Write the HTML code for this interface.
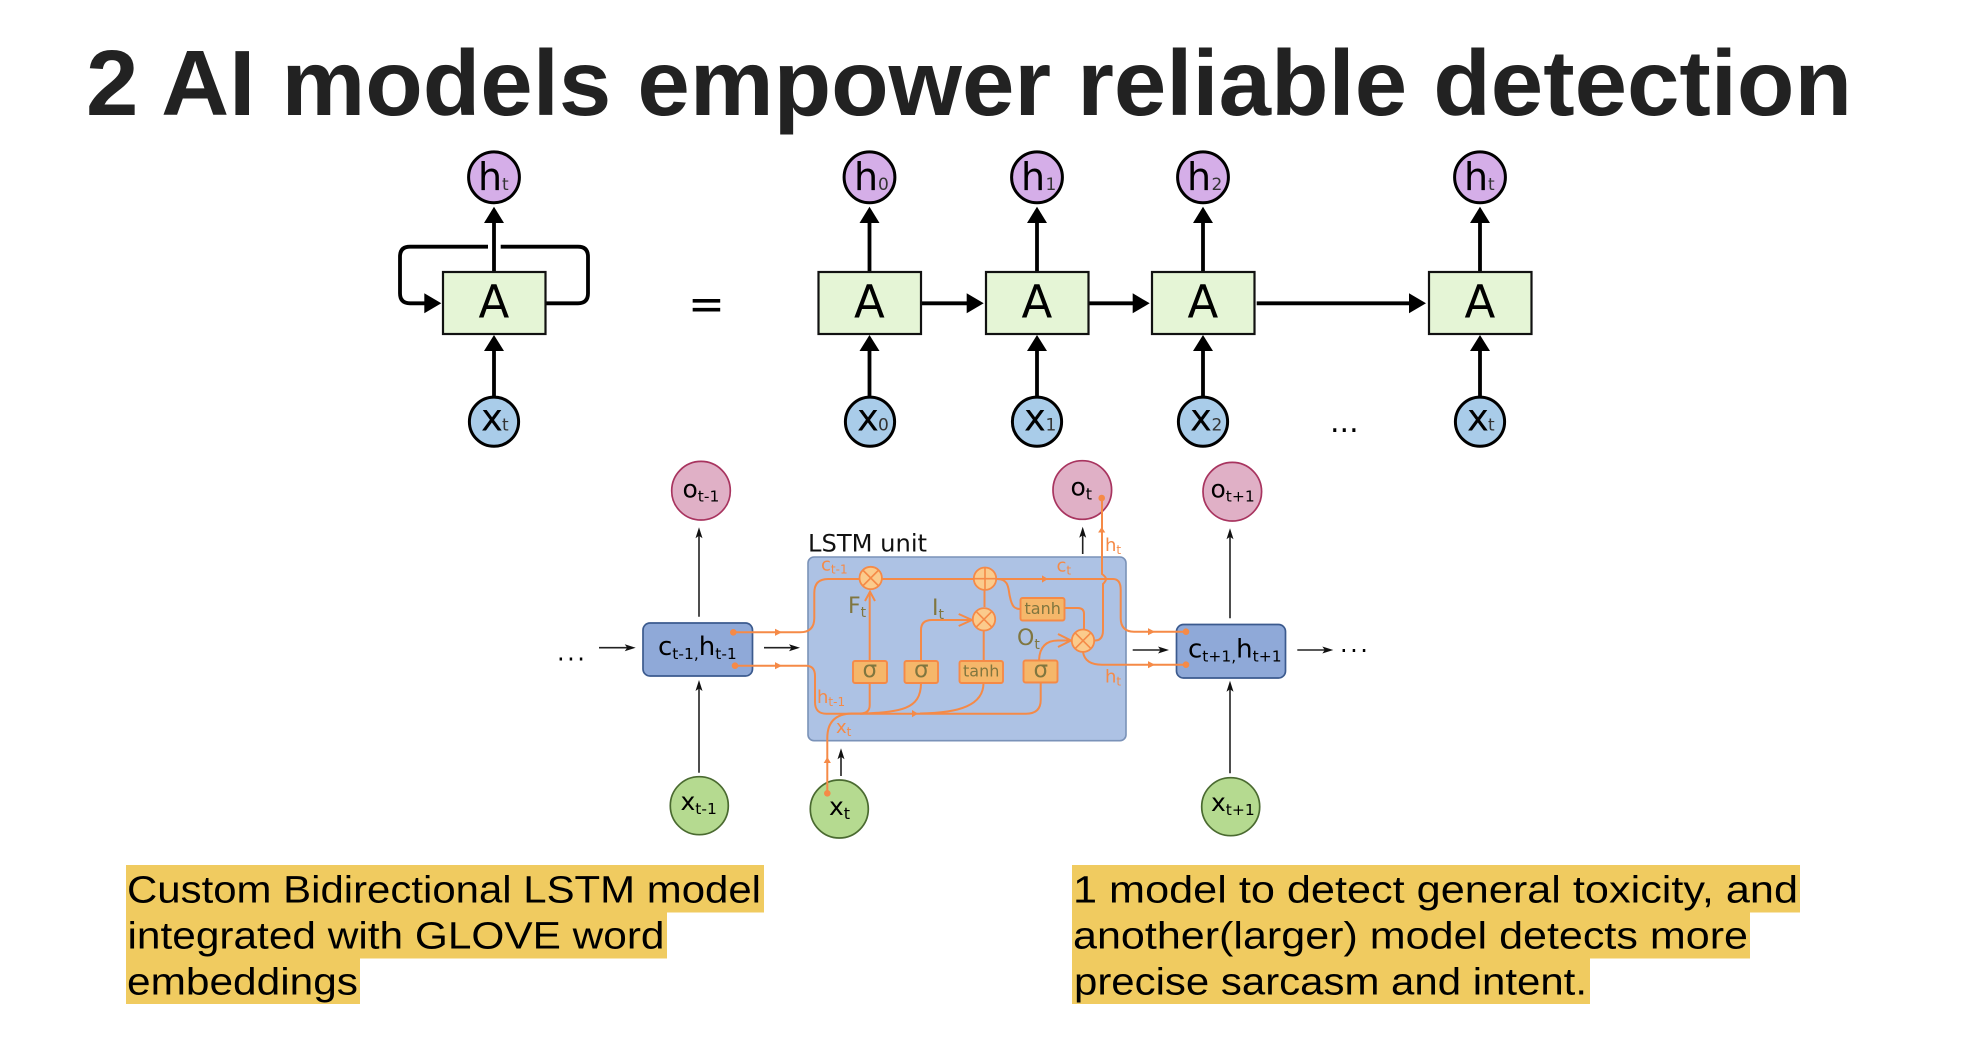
<!DOCTYPE html>
<html><head><meta charset="utf-8"><title>2 AI models empower reliable detection</title>
<style>html,body{margin:0;padding:0;background:#fff;width:1978px;height:1046px;overflow:hidden}svg{display:block}
.d{font-family:"DejaVu Sans",sans-serif}.l{font-family:"Liberation Sans",sans-serif}
.o{fill:#f58a47;font-size:18px}.ol{fill:#80763f;font-size:22px}.s{fill:#80763f;font-size:23px}.tn{fill:#80763f;font-size:16px}
.sub{fill:#333;font-size:17px}.big{fill:#000;font-size:38px}.xx{fill:#000;font-size:37px}.aa{fill:#000;font-size:45px}
.blk{fill:#000;font-size:24px}</style></head><body>
<svg width="1978" height="1046" viewBox="0 0 1978 1046" xmlns="http://www.w3.org/2000/svg">
<rect width="1978" height="1046" fill="#fff"/>
<text class="l" x="86" y="115" font-size="93" font-weight="700" fill="#222" textLength="1766" lengthAdjust="spacingAndGlyphs">2 AI models empower reliable detection</text>

<g stroke="#000" stroke-width="3.8" fill="none">
<path d="M488 246.7H410Q400 246.7 400 256.7V293.3Q400 303.3 410 303.3H426"/>
<path d="M500.7 246.7H578Q588 246.7 588 256.7V293.3Q588 303.3 578 303.3H545"/>
<path d="M494 271V222M494 396V350"/>
<path d="M869.5 271V222M869.5 396V350M1037 271V222M1037 396V350M1203 271V222M1203 396V350M1480 271V222M1480 396V350"/>
<path d="M921 303.3H968M1089 303.3H1134M1256.7 303.3H1410"/>
</g>
<g fill="#000">
<polygon points="441.3,303.3 424.3,293.3 424.3,313.3"/>
<polygon points="983.7,303.3 966.7,293.3 966.7,313.3"/>
<polygon points="1149.7,303.3 1132.7,293.3 1132.7,313.3"/>
<polygon points="1426,303.3 1409,293.3 1409,313.3"/>
<polygon points="494,206.7 504,223 484,223"/><polygon points="494,335 504,351 484,351"/>
<polygon points="869.5,206.7 879.5,223 859.5,223"/><polygon points="869.5,335 879.5,351 859.5,351"/>
<polygon points="1037,206.7 1047,223 1027,223"/><polygon points="1037,335 1047,351 1027,351"/>
<polygon points="1203,206.7 1213,223 1193,223"/><polygon points="1203,335 1213,351 1193,351"/>
<polygon points="1480,206.7 1490,223 1470,223"/><polygon points="1480,335 1490,351 1470,351"/>
</g>
<g fill="#e5f5d6" stroke="#111" stroke-width="2.2">
<rect x="443" y="272" width="102.5" height="62"/><rect x="818.5" y="272" width="102.5" height="62"/><rect x="986" y="272" width="102.5" height="62"/><rect x="1152" y="272" width="102.5" height="62"/><rect x="1429" y="272" width="102.5" height="62"/>
</g>
<g fill="#d5aee8" stroke="#000" stroke-width="3">
<circle cx="494" cy="177.3" r="25.4"/><circle cx="869.5" cy="177.3" r="25.4"/><circle cx="1037" cy="177.3" r="25.4"/><circle cx="1203" cy="177.3" r="25.4"/><circle cx="1480" cy="177.3" r="25.4"/>
</g>
<g fill="#a9cce9" stroke="#000" stroke-width="3">
<circle cx="494" cy="421.7" r="24.6"/><circle cx="870" cy="421.7" r="24.6"/><circle cx="1037" cy="421.7" r="24.6"/><circle cx="1203" cy="421.7" r="24.6"/><circle cx="1480" cy="421.7" r="24.6"/>
</g>
<g class="d">
<text class="aa" x="478.5" y="317.7">A</text><text class="aa" x="854" y="317.7">A</text><text class="aa" x="1021.5" y="317.7">A</text><text class="aa" x="1187.5" y="317.7">A</text><text class="aa" x="1464.5" y="317.7">A</text>
<text x="688" y="319" font-size="44" fill="#000">=</text>
<text class="big" x="478" y="190">h</text><text class="sub" x="502" y="190">t</text>
<text class="big" x="854" y="190">h</text><text class="sub" x="878" y="190">0</text>
<text class="big" x="1021" y="190">h</text><text class="sub" x="1045.5" y="190">1</text>
<text class="big" x="1187" y="190">h</text><text class="sub" x="1211.5" y="190">2</text>
<text class="big" x="1464" y="190">h</text><text class="sub" x="1488" y="190">t</text>
<text class="xx" x="481" y="430.7">x</text><text class="sub" x="502" y="430.7">t</text>
<text class="xx" x="857" y="430.7">x</text><text class="sub" x="878" y="430.7">0</text>
<text class="xx" x="1024" y="430.7">x</text><text class="sub" x="1045.5" y="430.7">1</text>
<text class="xx" x="1190" y="430.7">x</text><text class="sub" x="1211.5" y="430.7">2</text>
<text class="xx" x="1467" y="430.7">x</text><text class="sub" x="1488" y="430.7">t</text>
<text x="1330" y="432" font-size="30" fill="#000">...</text>
</g>

<!-- LSTM -->
<rect x="808" y="557" width="318" height="183.7" rx="6" fill="#adc2e4" stroke="#7a92b8" stroke-width="1.6"/>
<text class="d" x="808" y="551.7" font-size="24.2" fill="#111">LSTM unit</text>

<g fill="#8fa9d8" stroke="#3b5a8e" stroke-width="1.7">
<rect x="643" y="623" width="109.5" height="53" rx="7"/><rect x="1176.5" y="624.5" width="109" height="53.5" rx="7"/>
</g>
<g stroke="#222" stroke-width="1.6" fill="none">
<path d="M699 616.7V535M699 772.7V688M599 647.7H628M764 647.7H792M841 776V756M1082.7 554V535M1230 618.3V536M1230 773.3V688M1132.7 650H1161M1297.3 650H1325"/>
</g>
<g fill="#111">
<path d="M699 527.3l3.5 11-3.5-2.5-3.5 2.5z"/><path d="M699 680l3.5 11-3.5-2.5-3.5 2.5z"/>
<path d="M841 748.3l3.5 11-3.5-2.5-3.5 2.5z"/><path d="M1082.7 526.7l3.5 11-3.5-2.5-3.5 2.5z"/>
<path d="M1230 528.3l3.5 11-3.5-2.5-3.5 2.5z"/><path d="M1230 680.7l3.5 11-3.5-2.5-3.5 2.5z"/>
<path d="M635.7 647.7l-11 3.5 2.5-3.5-2.5-3.5z"/><path d="M800 647.7l-11 3.5 2.5-3.5-2.5-3.5z"/>
<path d="M1169 650l-11 3.5 2.5-3.5-2.5-3.5z"/><path d="M1333.3 650l-11 3.5 2.5-3.5-2.5-3.5z"/>
</g>
<g stroke-width="1.7">
<g fill="#e0b0c6" stroke="#a8345f">
<circle cx="701" cy="490.7" r="29.3"/><circle cx="1082.3" cy="490" r="29.3"/><circle cx="1232.3" cy="491.7" r="29.3"/>
</g>
<g fill="#b5da90" stroke="#4a6a30">
<circle cx="699.3" cy="805.7" r="29"/><circle cx="839.3" cy="809" r="29"/><circle cx="1230.7" cy="806.7" r="29"/>
</g>
</g>
<g class="d" fill="#000" font-size="25">
<text x="682.5" y="497.7">o<tspan font-size="15.5" dy="4">t-1</tspan></text>
<text x="1070.5" y="495.7">o<tspan font-size="16" dy="4">t</tspan></text>
<text x="1210.5" y="497.7">o<tspan font-size="15.5" dy="4">t+1</tspan></text>
<text x="680.5" y="810">x<tspan font-size="15.5" dy="4">t-1</tspan></text>
<text x="829" y="815">x<tspan font-size="16" dy="4">t</tspan></text>
<text x="1211" y="811">x<tspan font-size="15.5" dy="4">t+1</tspan></text>
<text x="658" y="655" font-size="26">c<tspan font-size="15.5" dy="4">t-1,</tspan><tspan dy="-4" font-size="26">h</tspan><tspan font-size="15.5" dy="4">t-1</tspan></text>
<text x="1188" y="657.3" font-size="26">c<tspan font-size="15.5" dy="4">t+1,</tspan><tspan dy="-4" font-size="26">h</tspan><tspan font-size="15.5" dy="4">t+1</tspan></text>
<text x="557" y="660.5" font-size="24" letter-spacing="2.5">...</text>
<text x="1340" y="652" font-size="24" letter-spacing="2.5">...</text>
</g>

<g fill="none" stroke="#f58a47" stroke-width="2">
<path d="M733.3 632.3H800Q814.3 632.3 814.3 618V593Q814.3 579 828 579H1113Q1120.7 579 1120.7 590V618Q1120.7 631.7 1134 631.7H1186"/>
<path d="M735 665.7H806Q815 665.7 815 676V702Q815 714 827 713.7H1026Q1040.7 713.7 1040.7 700V683"/>
<path d="M827.3 793.3V738Q827.3 714 852 713.5H860Q869.7 713.5 869.7 705V592"/>
<path d="M860 713.7C900 712 921 710 921 683V660M920 713.5C960 713 983.5 705 983.5 683"/>
<path d="M983.7 660V631M984.5 607V590"/>
<path d="M921 660V630Q921 620 932 620H972"/>
<path d="M1039 660Q1040 640.5 1058 640.5H1071"/>
<path d="M997 579C1010 579 1008 590 1010 597C1012 607 1015 609 1020 609"/>
<path d="M1065 608H1078Q1084 608 1084 614V629"/>
<path d="M1095 640.5Q1103 640.5 1103 630V584Q1106 581 1106 579Q1106 577 1102 574V498"/>
<path d="M1083 652Q1085 664.7 1102 664.7H1186"/>
<path d="M865 601L870 591.7L875 601M958.7 614L972 620L958.7 626M1058 634L1071 640.5L1058 647"/>
</g>
<g fill="#f58a47">
<circle cx="733.3" cy="632.3" r="3.3"/><circle cx="735" cy="665.7" r="3.3"/><circle cx="827.3" cy="793.3" r="3.3"/><circle cx="1101.7" cy="498" r="3.3"/><circle cx="1186" cy="631.7" r="3.3"/><circle cx="1186" cy="664.7" r="3.3"/>
<polygon points="782,632.3 775,628.7 775,635.9"/><polygon points="782,665.7 775,662.1 775,669.3"/>
<polygon points="918,713.6 912,710 912,717.2"/><polygon points="1048,579 1042,575.4 1042,582.6"/>
<polygon points="1155,631.7 1148,628.1 1148,635.3"/><polygon points="1155,664.7 1148,661.1 1148,668.3"/>
<polygon points="827.3,757 823.7,763 631,763" style="display:none"/><polygon points="827.3,757 823.7,763 830.9,763"/><polygon points="1101.7,527 1098.1,532.5 1105.3,532.5"/>
</g>
<g fill="#f5b76a" stroke="#f58a47" stroke-width="1.9">
<rect x="853" y="661" width="34" height="22" rx="2"/><rect x="904.5" y="661" width="33.5" height="22" rx="2"/><rect x="959.5" y="661" width="43.5" height="22" rx="2"/><rect x="1023.5" y="660.5" width="34" height="22" rx="2"/><rect x="1020.5" y="598" width="44" height="22.5" rx="2"/>
</g>
<g fill="#fbcb8c" stroke="#f58a47" stroke-width="1.8">
<circle cx="870.7" cy="578" r="11.2"/><circle cx="985" cy="578.7" r="11.2"/><circle cx="984" cy="619.3" r="11.2"/><circle cx="1083" cy="640.7" r="11.2"/>
</g>
<g stroke="#f58a47" stroke-width="1.6" fill="none">
<path d="M862.7 570L878.7 586M878.7 570L862.7 586"/>
<path d="M973.8 578.7H996.2M985 567.5V589.9"/>
<path d="M976 611.3L992 627.3M992 611.3L976 627.3"/>
<path d="M1075 632.7L1091 648.7M1091 632.7L1075 648.7"/>
</g>
<g class="d">
<text class="s" x="862.5" y="677">σ</text><text class="s" x="914" y="677">σ</text><text class="s" x="1033.5" y="677">σ</text>
<text class="tn" x="963" y="676.5">tanh</text><text class="tn" x="1024.5" y="614">tanh</text>
<text class="ol" x="848" y="613">F<tspan font-size="14" dy="4">t</tspan></text>
<text class="ol" x="932" y="615">I<tspan font-size="14" dy="4">t</tspan></text>
<text class="ol" x="1017" y="645">O<tspan font-size="14" dy="4">t</tspan></text>
<text class="o" x="821" y="570.7">c<tspan font-size="12" dy="3">t-1</tspan></text>
<text class="o" x="817" y="703">h<tspan font-size="12" dy="3">t-1</tspan></text>
<text class="o" x="836" y="733">x<tspan font-size="12" dy="3">t</tspan></text>
<text class="o" x="1056.5" y="571.7">c<tspan font-size="12" dy="3">t</tspan></text>
<text class="o" x="1105" y="551">h<tspan font-size="12" dy="3">t</tspan></text>
<text class="o" x="1105" y="682.7">h<tspan font-size="12" dy="3">t</tspan></text>
</g>

<!-- Highlighted text -->
<g fill="#f0cb60">
<rect x="126" y="865" width="638" height="47.5"/><rect x="126" y="912" width="541" height="46.5"/><rect x="126" y="958" width="234" height="46"/>
<rect x="1072" y="865" width="728" height="47.5"/><rect x="1072" y="912" width="678" height="46.5"/><rect x="1072" y="958" width="518" height="46"/>
</g>
<g class="l" fill="#000" font-size="38">
<text x="127" y="902.7" textLength="634" lengthAdjust="spacingAndGlyphs">Custom Bidirectional LSTM model</text>
<text x="127.5" y="948.7" textLength="537" lengthAdjust="spacingAndGlyphs">integrated with GLOVE word</text>
<text x="127" y="994.3" textLength="231" lengthAdjust="spacingAndGlyphs">embeddings</text>
<text x="1073" y="902.7" textLength="725" lengthAdjust="spacingAndGlyphs">1 model to detect general toxicity, and</text>
<text x="1073" y="948.7" textLength="675" lengthAdjust="spacingAndGlyphs">another(larger) model detects more</text>
<text x="1074" y="994.3" textLength="513" lengthAdjust="spacingAndGlyphs">precise sarcasm and intent.</text>
</g>
</svg>
</body></html>
